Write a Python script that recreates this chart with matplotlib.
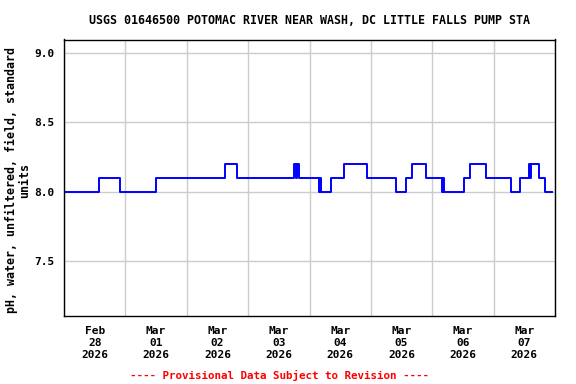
import numpy as np
import matplotlib
matplotlib.use("Agg")
import matplotlib.pyplot as plt
import matplotlib.dates as mdates
from datetime import datetime, timedelta

# hours after Feb 28 2026 00:00 where the reading changes, and the new value
change_hours = [0.0, 13.8, 22.0, 36.1, 62.9, 67.8, 89.8, 90.6, 91.2, 91.9,
                99.9, 100.3, 100.6, 104.3, 109.3, 118.6, 129.7, 133.9, 136.0,
                141.7, 147.9, 148.3, 148.6, 156.3, 158.8, 165.0, 174.6, 178.5,
                181.8, 182.2, 182.6, 185.6, 187.9, 190.9]
ph_values = [8.0, 8.1, 8.0, 8.1, 8.2, 8.1, 8.2, 8.1, 8.2, 8.1,
             8.0, 8.1, 8.0, 8.1, 8.2, 8.1, 8.0, 8.1, 8.2,
             8.1, 8.0, 8.1, 8.0, 8.1, 8.2, 8.1, 8.0, 8.1,
             8.2, 8.1, 8.2, 8.1, 8.0, 8.0]

day_labels = ["Feb\n28\n2026", "Mar\n01\n2026", "Mar\n02\n2026", "Mar\n03\n2026",
              "Mar\n04\n2026", "Mar\n05\n2026", "Mar\n06\n2026", "Mar\n07\n2026"]
y_ticks = [7.5, 8.0, 8.5, 9.0]

start = datetime(2026, 2, 28)
times = [start + timedelta(hours=h) for h in change_hours]

font = "DejaVu Sans Mono"

fig = plt.figure(figsize=(5.76, 3.84), dpi=100)
ax = fig.add_axes([64/576, 68/384, 491/576, 276.5/384])

ax.plot(times, ph_values, drawstyle="steps-post", color="#0000ff", lw=1.4)

ax.set_xlim(start, start + timedelta(days=8))
ax.set_ylim(7.1, 9.1)

midnights = [start + timedelta(days=i) for i in range(9)]
noons = [start + timedelta(days=i, hours=12) for i in range(8)]
ax.set_xticks(midnights)
ax.set_xticklabels([])
ax.set_xticks(noons, minor=True)
ax.set_xticklabels(day_labels, minor=True, fontfamily=font, fontweight="bold",
                   fontsize=8, linespacing=1.25)
ax.tick_params(axis="x", which="both", length=0, pad=7)

ax.set_yticks(y_ticks)
ax.set_yticklabels([f"{v:.1f}" for v in y_ticks], fontfamily=font, fontweight="bold", fontsize=8)
ax.tick_params(axis="y", length=0, pad=7)

ax.grid(True, which="major", color="#cccccc", lw=1)
ax.set_axisbelow(True)
for s in ax.spines.values():
    s.set_linewidth(1)

ax.set_title("USGS 01646500 POTOMAC RIVER NEAR WASH, DC LITTLE FALLS PUMP STA",
             fontfamily=font, fontweight="bold", fontsize=8.4, pad=11)

fig.text(18/576, 1 - 180/384, "pH, water, unfiltered, field, standard\nunits",
         rotation=90, ha="center", va="center", multialignment="center",
         fontfamily=font, fontweight="bold", fontsize=8.4, linespacing=1.1)

fig.text(280/576, 1 - 375/384, "---- Provisional Data Subject to Revision ----",
         color="red", ha="center", va="center",
         fontfamily=font, fontweight="bold", fontsize=7.8)

fig.savefig("out.png", dpi=100)
